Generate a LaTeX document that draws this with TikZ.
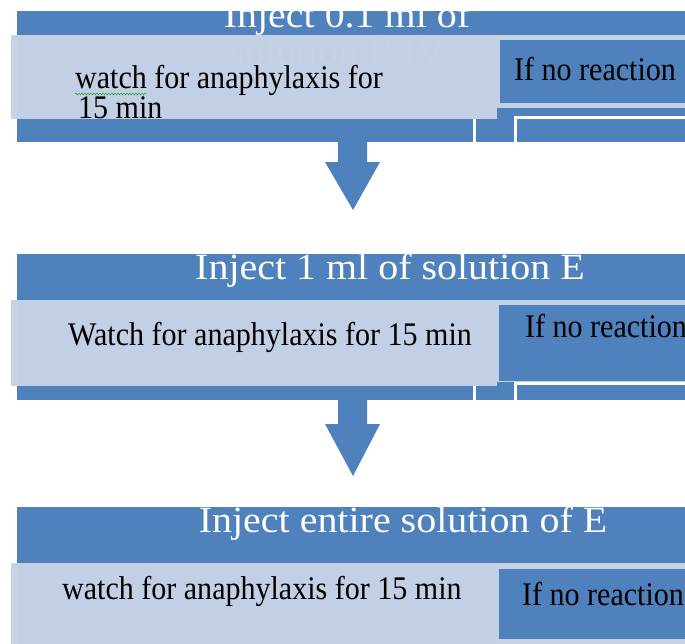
\documentclass[tikz,border=0pt]{standalone}
\usepackage{fontspec}
\setmainfont{Liberation Serif}
\newfontfamily\headfont[FakeStretch=1.08]{Liberation Serif}
\newfontfamily\bodyfont[FakeStretch=0.91]{Liberation Serif}
\usetikzlibrary{decorations.pathmorphing}
\definecolor{bandblue}{RGB}{79,129,189}
\definecolor{panelgray}{RGB}{198,209,229}

\begin{document}
\begin{tikzpicture}[x=1pt, y=-1pt,
        band/.style={fill=bandblue},
        panel/.style={fill=panelgray, fill opacity=0.98},
        gap/.style={draw=white, line width=3pt},
        headtext/.style={text=white, font=\headfont\fontsize{37}{40}\selectfont, inner sep=0pt, anchor=base},
        bodytext/.style={font=\bodyfont\fontsize{33}{30}\selectfont, inner sep=0pt, anchor=base west}]
        \useasboundingbox (0,0) rectangle (685,643);
        \clip (0,0) rectangle (685,643);

        \fill[band] (17,11) rectangle (690,142);
        \node[headtext] (t1) at (347,27) {Inject 0.1 ml of};
        \node[headtext] (t1b) at (337,64) {solution E IV};
        \fill[panel] (11,35) rectangle (497,119);
        \fill[panelgray] (497,35) rectangle (690,108);
        \fill[band] (500,40) rectangle (690,103);
        \draw[gap] (474,119) -- (474,142);
        \draw[gap] (515,142) -- (515,117) -- (690,117);
        \node[bodytext] (w1) at (75,88) {watch for anaphylaxis for};
        \node[bodytext] (w1b) at (78,118) {15 min};
        \draw[green!60!black, decorate, decoration={snake, amplitude=0.8pt, segment length=3pt}] (w1.base west) ++(0,6) -- ++(72,0);
        \node[bodytext] (r1) at (514,80) {If no reaction};

        \fill[band] (338,142) -- (367,142) -- (367,162) -- (380,162) -- (353,210) -- (325,162) -- (338,162) -- cycle;

        \fill[band] (17,254) rectangle (690,400);
        \node[headtext] (t2) at (390,279) {Inject 1 ml of solution E};
        \fill[panel] (11,300) rectangle (497,386);
        \fill[panelgray] (497,300) rectangle (690,382);
        \fill[band] (499,305) rectangle (690,381);
        \draw[gap] (474,386) -- (474,400);
        \draw[gap] (515,400) -- (515,383) -- (690,383);
        \node[bodytext] (w2) at (68,345) {Watch for anaphylaxis for 15 min};
        \node[bodytext] (r2) at (525,337) {If no reaction};

        \fill[band] (338,400) -- (367,400) -- (367,424) -- (380,424) -- (353,476) -- (325,424) -- (338,424) -- cycle;

        \fill[band] (17,507) rectangle (690,650);
        \node[headtext] (t3) at (403,532) {Inject entire solution of E};
        \fill[panel] (11,563) rectangle (497,650);
        \fill[panelgray] (497,563) rectangle (690,650);
        \fill[band] (499,569) rectangle (690,639);
        \node[bodytext] (w3) at (62,599) {watch for anaphylaxis for 15 min};
        \node[bodytext] (r3) at (522,605) {If no reaction};
    \end{tikzpicture}
\end{document}
